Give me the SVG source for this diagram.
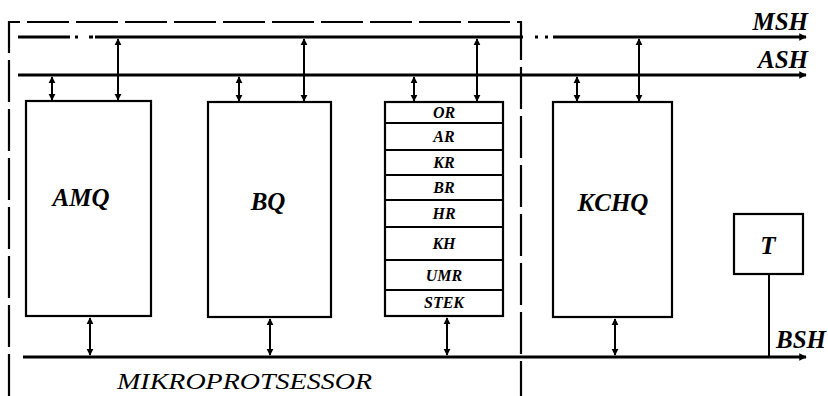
<svg xmlns="http://www.w3.org/2000/svg" width="828" height="396" viewBox="0 0 828 396">
<style>
.box{fill:#fff;stroke:#000;stroke-width:2.2}
.bus{stroke:#000;stroke-width:3;fill:none}
.conn{stroke:#000;stroke-width:2;fill:none;marker-start:url(#ah);marker-end:url(#ah)}
.dash{stroke:#000;stroke-width:2.2;fill:none;stroke-dasharray:42 7}
.lbl{font-family:"Liberation Serif",serif;font-weight:bold;font-style:italic;fill:#000}
.big{font-size:25px;text-anchor:middle}
.reg{font-size:16px;text-anchor:middle}
</style>
<defs>
<marker id="ah" viewBox="0 0 10 10" refX="9" refY="5" markerWidth="3.5" markerHeight="4" orient="auto-start-reverse" markerUnits="strokeWidth">
<path d="M0,0 L10,5 L0,10 z" fill="#000"/>
</marker>
<marker id="bh" viewBox="0 0 10 10" refX="9" refY="5" markerWidth="3.5" markerHeight="2.5" orient="auto" markerUnits="strokeWidth">
<path d="M0,0 L10,5 L0,10 z" fill="#000"/>
</marker>
</defs>

<g id="boundary">
<path class="dash" d="M9,396 V22 H521 V396"/>
</g>

<g id="buses">
<path class="bus" d="M18,37 H70 M75,37 H78 M89,37 H93 M95,37 H523 M535,37 H538 M545,37 H548"/>
<path class="bus" d="M553,37 H806" marker-end="url(#bh)"/>
<path class="bus" d="M18,75 H806" marker-end="url(#bh)"/>
<path class="bus" d="M23,357 H806" marker-end="url(#bh)"/>
<text class="lbl" x="808" y="30" font-size="25" text-anchor="end">MSH</text>
<text class="lbl" x="808" y="68" font-size="25" text-anchor="end">ASH</text>
<text class="lbl" x="826" y="348" font-size="25" text-anchor="end">BSH</text>
</g>

<g id="connectors">
<line class="conn" x1="52" y1="77" x2="52" y2="100"/>
<line class="conn" x1="118" y1="39" x2="118" y2="100"/>
<line class="conn" x1="90" y1="318" x2="90" y2="355"/>
<line class="conn" x1="239" y1="77" x2="239" y2="101"/>
<line class="conn" x1="304" y1="39" x2="304" y2="101"/>
<line class="conn" x1="270" y1="319" x2="270" y2="355"/>
<line class="conn" x1="414" y1="77" x2="414" y2="101"/>
<line class="conn" x1="477" y1="39" x2="477" y2="101"/>
<line class="conn" x1="447" y1="318" x2="447" y2="355"/>
<line class="conn" x1="577" y1="77" x2="577" y2="101"/>
<line class="conn" x1="639" y1="39" x2="639" y2="101"/>
<line class="conn" x1="615" y1="319" x2="615" y2="355"/>
<line x1="769" y1="275" x2="769" y2="357" stroke="#000" stroke-width="2"/>
</g>

<g id="AMQ">
<rect class="box" x="26" y="101" width="125" height="215"/>
<text class="lbl big" x="81" y="206">AMQ</text>
</g>

<g id="BQ">
<rect class="box" x="208" y="102" width="123" height="215"/>
<text class="lbl big" x="268" y="210">BQ</text>
</g>

<g id="registers">
<rect class="box" x="385" y="102" width="118" height="214"/>
<path d="M385,123 H503 M385,150 H503 M385,175 H503 M385,200 H503 M385,227 H503 M385,260 H503 M385,290 H503" stroke="#000" stroke-width="2"/>
<text class="lbl reg" x="444" y="118">OR</text>
<text class="lbl reg" x="444" y="142">AR</text>
<text class="lbl reg" x="444" y="168">KR</text>
<text class="lbl reg" x="444" y="193">BR</text>
<text class="lbl reg" x="444" y="219">HR</text>
<text class="lbl reg" x="444" y="249">KH</text>
<text class="lbl reg" x="444" y="281">UMR</text>
<text class="lbl reg" x="444" y="308">STEK</text>
</g>

<g id="KCHQ">
<rect class="box" x="553" y="102" width="119" height="215"/>
<text class="lbl big" x="613" y="211">KCHQ</text>
</g>

<g id="T">
<rect class="box" x="734" y="214" width="69" height="60"/>
<text class="lbl big" x="768" y="254">T</text>
</g>

<g id="label">
<text x="117" y="389" font-family="Liberation Serif, serif" font-style="italic" font-size="24" textLength="255" lengthAdjust="spacingAndGlyphs">MIKROPROTSESSOR</text>
</g>
</svg>
